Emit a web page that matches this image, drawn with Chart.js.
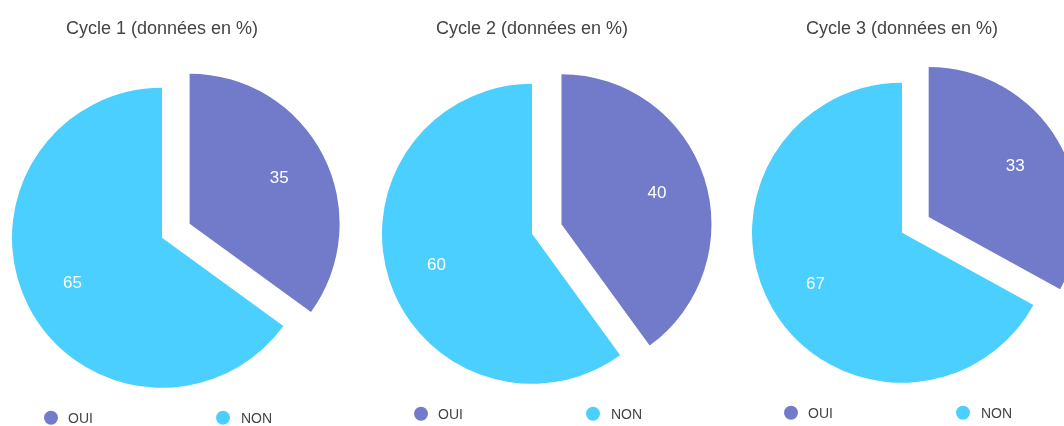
<!DOCTYPE html>
<html>
<head>
<meta charset="utf-8">
<script src="https://cdn.jsdelivr.net/npm/chart.js@4"></script>
<style>
  html, body { margin: 0; padding: 0; background: #fff; overflow: hidden; }
  #wrap { position: relative; width: 1064px; height: 426px; overflow: hidden; }
  .box { position: absolute; top: 0; width: 370px; height: 426px; }
</style>
</head>
<body>
<div id="wrap">
  <div class="box" style="left:-23px"><canvas id="c1"></canvas></div>
  <div class="box" style="left:347px"><canvas id="c2"></canvas></div>
  <div class="box" style="left:717px"><canvas id="c3"></canvas></div>
</div>
<script>
const labels = ['OUI', 'NON'];
const titles = ['Cycle 1 (données en %)', 'Cycle 2 (données en %)', 'Cycle 3 (données en %)'];
const cycle1 = [35, 65];
const cycle2 = [40, 60];
const cycle3 = [33, 67];

const colors = ['#727bc9', '#4bcffe'];
const FONT = 'Helvetica, "Liberation Sans", Arial, sans-serif';
const pull = 31;              // px the OUI slice is pulled out
const bottomPad = [0, 8, 10]; // small vertical differences between the three pies

// pull the first slice out along its middle angle
// (the built-in offset option also makes the slice bigger, which the original doesn't)
const explode = {
  id: 'explode',
  afterDatasetsUpdate(chart) {
    const arc = chart.getDatasetMeta(0).data[0];
    if (!arc) return;
    const mid = (arc.startAngle + arc.endAngle) / 2;
    arc.x += Math.cos(mid) * pull;
    arc.y += Math.sin(mid) * pull;
  }
};

const sliceLabels = {
  id: 'sliceLabels',
  afterDatasetsDraw(chart) {
    const ctx = chart.ctx;
    const meta = chart.getDatasetMeta(0);
    const values = chart.data.datasets[0].data;
    ctx.save();
    ctx.font = '17px ' + FONT;
    ctx.fillStyle = '#fff';
    ctx.textAlign = 'center';
    ctx.textBaseline = 'middle';
    meta.data.forEach((arc, i) => {
      const mid = (arc.startAngle + arc.endAngle) / 2;
      const r = arc.outerRadius * 0.67;
      ctx.fillText(String(values[i]), arc.x + Math.cos(mid) * r, arc.y + Math.sin(mid) * r);
    });
    ctx.restore();
  }
};

// legend with wide gaps, like the original
const wideLegend = {
  id: 'wideLegend',
  afterDraw(chart) {
    const ctx = chart.ctx;
    const area = chart.chartArea;
    const cx = (area.left + area.right) / 2;
    const cy = (area.top + area.bottom) / 2 + 180;
    const items = [[-111, -94], [61, 79]];
    ctx.save();
    ctx.font = '14px ' + FONT;
    ctx.textBaseline = 'middle';
    ctx.textAlign = 'left';
    chart.data.labels.forEach((lab, i) => {
      ctx.fillStyle = chart.data.datasets[0].backgroundColor[i];
      ctx.beginPath();
      ctx.arc(cx + items[i][0], cy, 7, 0, Math.PI * 2);
      ctx.fill();
      ctx.fillStyle = '#444';
      ctx.fillText(lab, cx + items[i][1], cy + 1);
    });
    ctx.restore();
  }
};

function makePie(id, title, values, pb) {
  return new Chart(document.getElementById(id), {
    type: 'pie',
    data: {
      labels: labels,
      datasets: [{
        data: values,
        backgroundColor: colors,
        borderWidth: 0,
        hoverOffset: 0
      }]
    },
    options: {
      responsive: true,
      maintainAspectRatio: false,
      animation: false,
      events: [],
      radius: 150,
      layout: { padding: { top: 8, bottom: pb, left: 0, right: 0 } },
      plugins: {
        legend: { display: false },
        tooltip: { enabled: false },
        title: {
          display: true,
          text: title,
          color: '#444',
          font: { size: 18, family: FONT, weight: 'normal' },
          padding: { top: 10, bottom: 10 }
        }
      }
    },
    plugins: [explode, sliceLabels, wideLegend]
  });
}

makePie('c1', titles[0], cycle1, bottomPad[0]);
makePie('c2', titles[1], cycle2, bottomPad[1]);
makePie('c3', titles[2], cycle3, bottomPad[2]);
</script>
</body>
</html>
